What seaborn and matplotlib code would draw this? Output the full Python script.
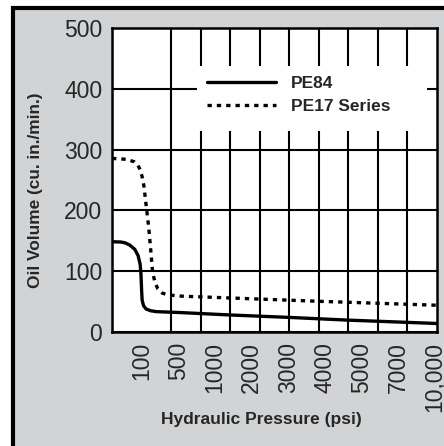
import numpy as np
import pandas as pd
import matplotlib
matplotlib.use("Agg")
import matplotlib.pyplot as plt
from matplotlib.patches import Rectangle
import seaborn as sns

# pressure tick labels (evenly spread under the grid)
pressure_labels = ["100", "500", "1000", "2000", "3000", "4000", "5000", "7000", "10,000"]

# curves, x in grid units (0..11)
pe84_x = [0, 0.3, 0.45, 0.6, 0.77, 0.88, 0.95, 0.98, 1.0, 1.02, 1.07, 1.15, 1.3, 1.5, 2.3, 4, 6, 8, 11]
pe84_y = [148.5, 148, 146.5, 143, 136, 126, 112, 95, 70, 52, 43, 38, 35, 33.5, 32, 28, 24, 19.5, 14]

pe17_x = [0, 0.5, 0.75, 0.88, 0.96, 1.02, 1.08, 1.16, 1.24, 1.31, 1.37, 1.45, 1.55, 1.7, 1.9, 2.34, 7, 11]
pe17_y = [285.5, 284, 280, 274, 266, 255, 240, 206, 173, 135, 100, 82, 71, 64, 61, 59, 50.5, 44]

sns.set_theme(style="white")
plt.rcParams["font.family"] = ["Liberation Sans", "DejaVu Sans"]

fig = plt.figure(figsize=(4.44, 4.46), dpi=100, facecolor="white")

# grey panel with black frame
fig.patches.append(Rectangle((0.029, -0.1), 1.2, 1.081, transform=fig.transFigure,
                             facecolor="#d2d3d5", edgecolor="black", linewidth=3, zorder=-10))

ax = fig.add_axes([0.2523, 0.2556, 0.732, 0.6816])
ax.set_facecolor("white")

sns.lineplot(x=pe84_x, y=pe84_y, ax=ax, color="black", linewidth=2.4,
             sort=False, estimator=None, label="PE84", zorder=4)
sns.lineplot(x=pe17_x, y=pe17_y, ax=ax, color="black", linewidth=2.4,
             linestyle=(0, (1.3, 1.5)), sort=False, estimator=None, label="PE17 Series", zorder=4)

ax.set_xlim(0, 11)
ax.set_ylim(0, 500)

# grid
ax.set_xticks(np.arange(1, 11), minor=True)
ax.set_yticks([0, 100, 200, 300, 400, 500])
ax.grid(False)
ax.grid(True, which="minor", axis="x", color="black", linewidth=1.5, zorder=1)
ax.grid(True, which="major", axis="y", color="black", linewidth=1.5, zorder=1)
ax.set_axisbelow(True)

ax.set_xticks(np.linspace(1.0, 10.92, len(pressure_labels)))
ax.set_xticklabels(pressure_labels, rotation=90, fontsize=16.5)
ax.tick_params(axis="x", which="both", length=0, pad=7)
ax.tick_params(axis="y", length=2, width=1.5, pad=5, labelsize=16.5, color="black")

for s in ax.spines.values():
    s.set_color("black")
    s.set_linewidth(1.8)

ax.set_xlabel("Hydraulic Pressure (psi)", fontsize=12.5, fontweight="bold")
ax.xaxis.set_label_coords(0.46, -0.262)
ax.set_ylabel("Oil Volume (cu. in./min.)", fontsize=12.4, fontweight="bold")
ax.yaxis.set_label_coords(-0.212, 0.465)

# white legend box
ax.add_patch(Rectangle((0.262, 0.661), 0.708, 0.214, transform=ax.transAxes,
                       facecolor="white", edgecolor="none", zorder=2))
leg = ax.legend(loc="upper left", bbox_to_anchor=(0.292, 0.843), frameon=False,
                borderpad=0, borderaxespad=0, handlelength=4.0, handletextpad=0.85,
                labelspacing=0.45, prop={"weight": "bold", "size": 12.5})
leg.set_zorder(5)

fig.savefig("out.png", dpi=100, facecolor=fig.get_facecolor())
